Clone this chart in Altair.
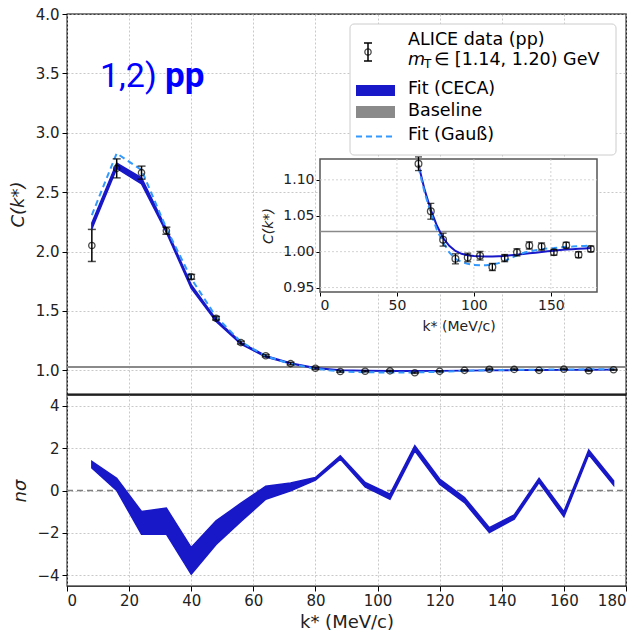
import altair as alt
import pandas as pd

# ---------------- data ----------------
k = [8, 16, 24, 32, 40, 48, 56, 64, 72, 80, 88, 96, 104, 112, 120, 128, 136, 144, 152, 160, 168, 176]
C_data = [2.051, 2.700, 2.664, 2.175, 1.787, 1.438, 1.233, 1.1224, 1.0562, 1.0167, 0.990, 0.9919,
          0.9943, 0.9786, 0.991, 0.999, 1.0086, 1.0071, 0.999, 1.009, 0.9957, 1.0038]
C_err = [0.135, 0.08, 0.055, 0.03, 0.02, 0.015, 0.012, 0.0095, 0.011, 0.009, 0.007, 0.006,
         0.006, 0.005, 0.005, 0.005, 0.005, 0.005, 0.004, 0.004, 0.004, 0.004]
ceca_lo = [2.19, 2.70, 2.57, 2.16, 1.69, 1.41, 1.22, 1.112, 1.055, 1.015, 0.999, 0.993,
           0.992, 0.992, 0.993, 0.995, 0.997, 0.999, 1.000, 1.002, 1.003, 1.004]
ceca_hi = [2.24, 2.745, 2.62, 2.19, 1.72, 1.43, 1.235, 1.122, 1.062, 1.021, 1.003, 0.997,
           0.995, 0.995, 0.996, 0.998, 1.000, 1.002, 1.004, 1.005, 1.006, 1.007]
gauss = [2.307, 2.827, 2.686, 2.195, 1.773, 1.45, 1.24, 1.118, 1.054, 1.013, 0.990, 0.983,
         0.981, 0.982, 0.987, 0.995, 1.0005, 1.0035, 1.005, 1.0067, 1.0076, 1.0086]

k_fine = [64, 68, 72, 76, 80, 84, 88, 92, 96, 100, 104, 108, 112, 116, 120, 124, 128, 132, 136,
          140, 144, 148, 152, 156, 160, 164, 168, 172, 176]
ceca_fine = [1.121, 1.086, 1.058, 1.036, 1.019, 1.008, 1.001, 0.997, 0.995, 0.994, 0.9935, 0.9933,
             0.9933, 0.9936, 0.994, 0.995, 0.9958, 0.9966, 0.9976, 0.9985, 0.9995, 1.0005, 1.0014,
             1.0022, 1.003, 1.0035, 1.004, 1.0045, 1.005]
gauss_fine = [1.118, 1.082, 1.054, 1.030, 1.013, 0.999, 0.990, 0.9855, 0.983, 0.9815, 0.981, 0.981,
              0.982, 0.984, 0.987, 0.991, 0.995, 0.998, 1.0005, 1.002, 1.0035, 1.0045, 1.005,
              1.006, 1.0067, 1.007, 1.0076, 1.008, 1.0086]

nsig_lo = [1.06, 0.0, -2.06, -2.06, -3.95, -2.54, -1.46, -0.41, -0.02, 0.49, 1.48, 0.17,
           -0.41, 1.87, 0.30, -0.57, -1.98, -1.35, 0.38, -1.24, 1.69, 0.25]
nsig_hi = [1.37, 0.58, -0.99, -0.83, -2.69, -1.43, -0.60, 0.20, 0.35, 0.61, 1.64, 0.38,
           -0.17, 2.11, 0.54, -0.33, -1.75, -1.15, 0.57, -1.00, 1.91, 0.46]

baseline = [1.028]
inset_x_ticks = [50, 100, 150]
inset_y_ticks = [0.95, 1.00, 1.05, 1.10]

# ---------------- styling ----------------
W, H1, H2 = 559, 380, 191
CECA = "#1818c8"
GAUSS = "#3399ff"
GREY = "#8a8a8a"
FONT = "DejaVu Sans"

# inset placement (pixels inside the top plot area)
IX0, IX1, IY0, IY1 = 253, 530, 145, 278

df = pd.DataFrame({"k": k, "C": C_data, "err": C_err, "clo": ceca_lo, "chi": ceca_hi, "g": gauss})
df["lo"] = df["C"] - df["err"]
df["hi"] = df["C"] + df["err"]
dfi = df[df["k"] >= 64]
dff = pd.DataFrame({"k": k_fine, "c": ceca_fine, "g": gauss_fine})
dfn = pd.DataFrame({"k": k, "lo": nsig_lo, "hi": nsig_hi})
dfb = pd.DataFrame({"b": baseline})
one = pd.DataFrame({"a": [0]})

xs = alt.Scale(domain=[0, 180], nice=False, zero=False)
ys = alt.Scale(domain=[0.8, 4.0], nice=False, zero=False)
xax_top = alt.Axis(values=list(range(0, 181, 20)), labels=False, ticks=False, title=None, grid=True,
                   tickSize=0, labelPadding=0)
yax_top = alt.Axis(values=[1.0, 1.5, 2.0, 2.5, 3.0, 3.5, 4.0], format=".1f", title="C(k*)",
                   titleFontStyle="italic", grid=True)

X = alt.X("k:Q", scale=xs, axis=xax_top)


def Y(f):
    return alt.Y(f, type="quantitative", scale=ys, axis=yax_top)


base_main = alt.Chart(df)
m_base = alt.Chart(dfb).mark_rule(color=GREY, strokeWidth=2).encode(
    x=alt.value(0), x2=alt.value(W), y=Y("b"))
m_band = base_main.mark_area(color=CECA, opacity=1, stroke=CECA, strokeWidth=1.5).encode(
    x=X, y=Y("clo"), y2="chi:Q")
m_gauss = base_main.mark_line(color=GAUSS, strokeDash=[6, 4], strokeWidth=2).encode(x=X, y=Y("g"))
m_err = base_main.mark_rule(color="black", strokeWidth=1.5).encode(x=X, y=Y("lo"), y2="hi:Q")
m_cap1 = base_main.mark_tick(orient="horizontal", size=8, thickness=1.5, color="black").encode(x=X, y=Y("lo"))
m_cap2 = base_main.mark_tick(orient="horizontal", size=8, thickness=1.5, color="black").encode(x=X, y=Y("hi"))
m_pts = base_main.mark_point(shape="circle", filled=False, color="black", size=40, strokeWidth=1.3).encode(
    x=X, y=Y("C"))


def txt(s, x, y, size=17, **kw):
    return alt.Chart(one).mark_text(align="left", baseline="middle", fontSize=size, font=FONT, **kw).encode(
        x=alt.value(x), y=alt.value(y), text=alt.value(s))


leg_box = alt.Chart(one).mark_rect(fill="white", stroke="#cccccc", strokeWidth=1, cornerRadius=4).encode(
    x=alt.value(283), x2=alt.value(549), y=alt.value(10), y2=alt.value(141))
leg_err = alt.Chart(one).mark_rule(color="black", strokeWidth=1.5).encode(
    x=alt.value(301), y=alt.value(29), y2=alt.value(47))
leg_cap1 = alt.Chart(one).mark_rule(color="black", strokeWidth=1.5).encode(
    x=alt.value(297), x2=alt.value(305), y=alt.value(29))
leg_cap2 = alt.Chart(one).mark_rule(color="black", strokeWidth=1.5).encode(
    x=alt.value(297), x2=alt.value(305), y=alt.value(47))
leg_pt = alt.Chart(one).mark_point(shape="circle", filled=False, color="black", size=40, strokeWidth=1.3).encode(
    x=alt.value(301), y=alt.value(38))
leg_sw1 = alt.Chart(one).mark_rect(fill=CECA).encode(
    x=alt.value(289), x2=alt.value(328), y=alt.value(71), y2=alt.value(82))
leg_sw2 = alt.Chart(one).mark_rect(fill=GREY).encode(
    x=alt.value(289), x2=alt.value(328), y=alt.value(92), y2=alt.value(104))
leg_dash = alt.Chart(one).mark_rule(color=GAUSS, strokeWidth=2, strokeDash=[6, 4]).encode(
    x=alt.value(289), x2=alt.value(328), y=alt.value(122.5))
leg_t1 = txt("ALICE data (pp)", 341, 26, size=17.5)
leg_t2a = txt("m", 341, 46, size=17.5, fontStyle="italic")
leg_t2b = txt("T", 357, 50, size=12)
leg_t2c = txt("∈ [1.14, 1.20) GeV", 367, 46, size=17.5)
leg_t3 = txt("Fit (CECA)", 341, 75, size=17.5)
leg_t4 = txt("Baseline", 341, 97, size=17.5)
leg_t5 = txt("Fit (Gauß)", 341, 121, size=17.5)

lab1 = alt.Chart(one).mark_text(align="left", baseline="alphabetic", fontSize=34, font="Roboto",
                                color="#0000ff").encode(x=alt.value(33), y=alt.value(73), text=alt.value("1,2)"))
lab2 = alt.Chart(one).mark_text(align="left", baseline="alphabetic", fontSize=35, font="Roboto",
                                fontWeight="bold", color="#0000ff").encode(
    x=alt.value(98), y=alt.value(73), text=alt.value("pp"))

main_layer = alt.layer(m_base, m_band, m_gauss, m_err, m_cap1, m_cap2, m_pts,
                       leg_box, leg_err, leg_cap1, leg_cap2, leg_pt, leg_sw1, leg_sw2, leg_dash,
                       leg_t1, leg_t2a, leg_t2b, leg_t2c, leg_t3, leg_t4, leg_t5, lab1, lab2)

# ---------------- inset ----------------
ixs = alt.Scale(domain=[0, 180], range=[IX0, IX1], nice=False, zero=False)
iys = alt.Scale(domain=[0.9438, 1.129], range=[IY1, IY0], nice=False, zero=False)
ixax = alt.Axis(orient="bottom", offset=-(H1 - IY1), values=[0, 50, 100, 150], grid=False,
                title="k* (MeV/c)", labelFontSize=14, titleFontSize=14, tickSize=4, labelPadding=2,
                titlePadding=7, domain=False, titleFontWeight="normal")
iyax = alt.Axis(orient="left", offset=-IX0, values=inset_y_ticks, format=".2f", grid=False,
                title="C(k*)", titleFontStyle="italic", labelFontSize=14, titleFontSize=14, tickSize=4,
                labelPadding=2, titlePadding=7, domain=False)
IX = alt.X("k:Q", scale=ixs, axis=ixax)


def IY(f):
    return alt.Y(f, type="quantitative", scale=iys, axis=iyax)


i_bg = alt.Chart(one).mark_rect(fill="white", stroke="#555555", strokeWidth=1.5).encode(
    x=alt.value(IX0), x2=alt.value(IX1), y=alt.value(IY0), y2=alt.value(IY1))
i_gx = alt.Chart(pd.DataFrame({"k": inset_x_ticks})).mark_rule(color="#c8c8c8", strokeDash=[2, 2],
                                                                strokeWidth=0.8).encode(
    x=IX, y=alt.value(IY0), y2=alt.value(IY1))
i_gy = alt.Chart(pd.DataFrame({"v": inset_y_ticks})).mark_rule(color="#c8c8c8", strokeDash=[2, 2],
                                                                strokeWidth=0.8).encode(
    y=IY("v"), x=alt.value(IX0), x2=alt.value(IX1))
i_base = alt.Chart(dfb).mark_rule(color=GREY, strokeWidth=1.5).encode(
    y=IY("b"), x=alt.value(IX0), x2=alt.value(IX1))
i_ceca = alt.Chart(dff).mark_line(color=CECA, strokeWidth=2).encode(x=IX, y=IY("c"))
i_gauss = alt.Chart(dff).mark_line(color=GAUSS, strokeWidth=2, strokeDash=[6, 4]).encode(x=IX, y=IY("g"))
base_i = alt.Chart(dfi)
i_err = base_i.mark_rule(color="black", strokeWidth=1.3).encode(x=IX, y=IY("lo"), y2="hi:Q")
i_cap1 = base_i.mark_tick(orient="horizontal", size=7, thickness=1.3, color="black").encode(x=IX, y=IY("lo"))
i_cap2 = base_i.mark_tick(orient="horizontal", size=7, thickness=1.3, color="black").encode(x=IX, y=IY("hi"))
i_pts = base_i.mark_point(shape="circle", filled=False, color="black", size=45, strokeWidth=1.3).encode(
    x=IX, y=IY("C"))

inset_layer = alt.layer(i_bg, i_gx, i_gy, i_base, i_ceca, i_gauss, i_err, i_cap1, i_cap2, i_pts)

top = alt.layer(main_layer, inset_layer).resolve_scale(x="independent", y="independent").properties(
    width=W, height=H1)

# ---------------- bottom (n sigma) ----------------
xs_b = alt.Scale(domain=[0, 180], nice=False, zero=False)
ys_b = alt.Scale(domain=[-4.5, 4.5], nice=False, zero=False)
xax_b = alt.Axis(values=list(range(0, 181, 20)), title="k* (MeV/c)", grid=True, titleFontSize=18,
                 titlePadding=5, labelPadding=2)
yax_b = alt.Axis(values=[-4, -2, 0, 2, 4], format="d", title="nσ", titleFontStyle="italic", grid=True,
                 titlePadding=7)
b_zero = alt.Chart(pd.DataFrame({"z": [0]})).mark_rule(color="#808080", strokeDash=[6, 4], strokeWidth=1.5).encode(
    y=alt.Y("z:Q", scale=ys_b, axis=yax_b), x=alt.value(0), x2=alt.value(W))
b_band = alt.Chart(dfn).mark_area(color=CECA, opacity=1, stroke=CECA, strokeWidth=1.5).encode(
    x=alt.X("k:Q", scale=xs_b, axis=xax_b), y=alt.Y("lo:Q", scale=ys_b, axis=yax_b), y2="hi:Q")
bottom = alt.layer(b_zero, b_band).properties(width=W, height=H2)

chart = alt.vconcat(top, bottom, spacing=-4).properties(
    padding={"left": 8, "top": 6, "right": 0, "bottom": 0}
).configure_view(stroke="black", strokeWidth=1.3).configure_axis(
    labelFont=FONT, titleFont=FONT, labelFontSize=15, titleFontSize=18, labelColor="#222222",
    titleColor="#222222", titleFontWeight="normal", domain=False, tickColor="black", tickSize=5,
    labelPadding=3, gridColor="#bbbbbb", gridDash=[2, 2], gridWidth=0.8
).configure_axisY(titlePadding=8)

chart.save("out.html", embed_options={"renderer": "svg", "actions": False})
